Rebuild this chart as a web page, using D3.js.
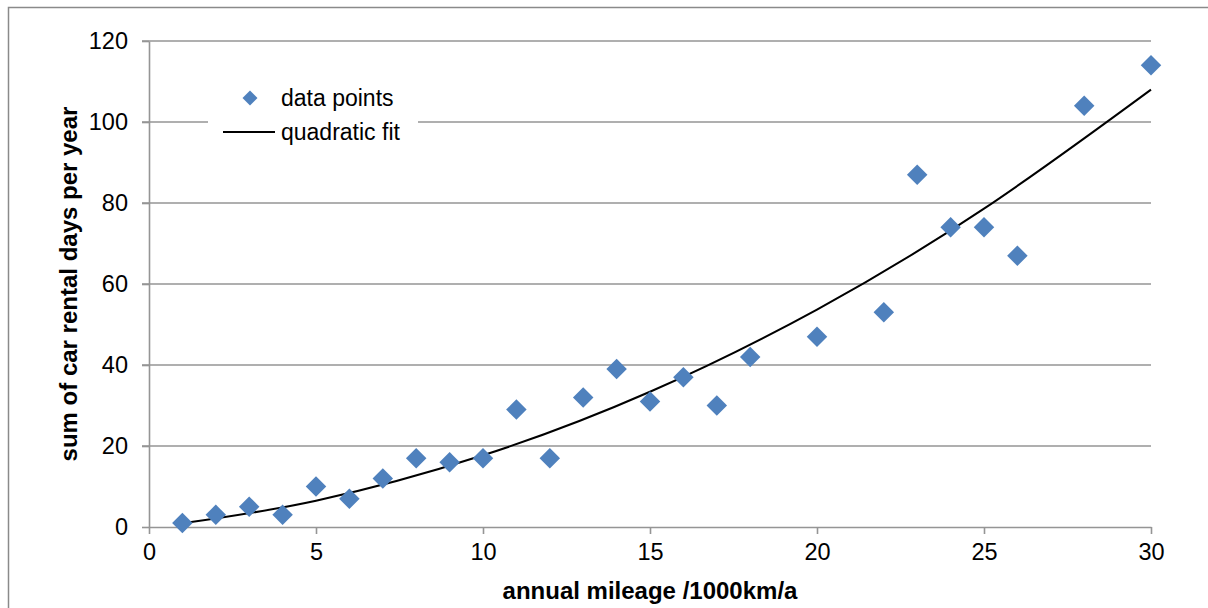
<!DOCTYPE html>
<html>
<head>
<meta charset="utf-8">
<script src="https://cdn.jsdelivr.net/npm/d3@7"></script>
<style>
    body { margin: 0; background: #fff; }
    text { font-family: "Liberation Sans", Arial, sans-serif; fill: #000; }
    .grid line { stroke: #959595; stroke-width: 1.6; }
    .axis path, .axis line { stroke: #959595; stroke-width: 1.6; }
</style>
</head>
<body>
<div id="chart"></div>
<script>
// measured data
var mileage = [1, 2, 3, 4, 5, 6, 7, 8, 9, 10, 11, 12, 13, 14, 15, 16, 17, 18, 20, 22, 23, 24, 25, 26, 28, 30];
var rentalDays = [1, 3, 5, 3, 10, 7, 12, 17, 16, 17, 29, 17, 32, 39, 31, 37, 30, 42, 47, 53, 87, 74, 74, 67, 104, 114];

// quadratic fit curve
var fitX = [1, 5, 10, 15, 20, 25, 30];
var fitY = [0.9, 6.5, 17.7, 33.4, 53.7, 78.6, 108];

var xTicks = [0, 5, 10, 15, 20, 25, 30];
var yTicks = [0, 20, 40, 60, 80, 100, 120];

var w = 1208, h = 608;
var plotLeft = 149, plotRight = 1151, plotTop = 41, plotBottom = 527;

var svg = d3.select("#chart").append("svg")
    .attr("width", w)
    .attr("height", h);

// outer chart frame
svg.append("rect")
    .attr("x", 8.5).attr("y", 7.5)
    .attr("width", w).attr("height", h)
    .attr("fill", "none")
    .attr("stroke", "#8a8a8a")
    .attr("stroke-width", 1.5);

var xScale = d3.scaleLinear().domain([0, 30]).range([plotLeft, plotRight]);
var yScale = d3.scaleLinear().domain([0, 120]).range([plotBottom, plotTop]);

// horizontal gridlines
svg.append("g").attr("class", "grid")
    .selectAll("line")
    .data(yTicks.filter(d => d > 0))
    .join("line")
    .attr("x1", plotLeft - 7).attr("x2", plotRight)
    .attr("y1", d => yScale(d)).attr("y2", d => yScale(d));

// y axis
var yAxis = svg.append("g").attr("class", "axis")
    .attr("transform", "translate(" + plotLeft + ",0)")
    .call(d3.axisLeft(yScale).tickValues(yTicks).tickSize(7).tickSizeOuter(0).tickPadding(14));
yAxis.selectAll("text").style("font-size", "23.5px").attr("font-family", "Liberation Sans, Arial, sans-serif");

// x axis
var xAxis = svg.append("g").attr("class", "axis")
    .attr("transform", "translate(0," + plotBottom + ")")
    .call(d3.axisBottom(xScale).tickValues(xTicks).tickSize(7).tickSizeOuter(0).tickPadding(9));
xAxis.selectAll("text").style("font-size", "23.5px").attr("font-family", "Liberation Sans, Arial, sans-serif");

// axis titles
svg.append("text")
    .attr("x", (plotLeft + plotRight) / 2)
    .attr("y", 599)
    .attr("text-anchor", "middle")
    .style("font-size", "24px")
    .style("font-weight", "bold")
    .text("annual mileage /1000km/a");

svg.append("text")
    .attr("transform", "translate(77," + (plotTop + plotBottom) / 2 + ") rotate(-90)")
    .attr("text-anchor", "middle")
    .style("font-size", "24px")
    .style("font-weight", "bold")
    .text("sum of car rental days per year");

// fit line
var line = d3.line()
    .curve(d3.curveNatural)
    .x((d, i) => xScale(fitX[i]))
    .y(d => yScale(d));

svg.append("path")
    .datum(fitY)
    .attr("d", line)
    .attr("fill", "none")
    .attr("stroke", "#000")
    .attr("stroke-width", 2);

// data points
var diamond = d3.symbol().type(d3.symbolSquare).size(210);
svg.append("g")
    .selectAll("path")
    .data(mileage)
    .join("path")
    .attr("d", diamond)
    .attr("transform", (d, i) => "translate(" + xScale(d) + "," + yScale(rentalDays[i]) + ") rotate(45)")
    .attr("fill", "#4f81bd");

// legend
var legend = svg.append("g");
legend.append("rect")
    .attr("x", 208).attr("y", 78)
    .attr("width", 210).attr("height", 72)
    .attr("fill", "#fff");
legend.append("path")
    .attr("d", d3.symbol().type(d3.symbolSquare).size(112))
    .attr("transform", "translate(250,98) rotate(45)")
    .attr("fill", "#4f81bd");
legend.append("line")
    .attr("x1", 223).attr("x2", 275)
    .attr("y1", 132).attr("y2", 132)
    .attr("stroke", "#000").attr("stroke-width", 2);
legend.append("text")
    .attr("x", 281).attr("y", 98).attr("dy", "0.35em")
    .style("font-size", "23px")
    .text("data points");
legend.append("text")
    .attr("x", 281).attr("y", 132).attr("dy", "0.35em")
    .style("font-size", "23px")
    .text("quadratic fit");
</script>
</body>
</html>
